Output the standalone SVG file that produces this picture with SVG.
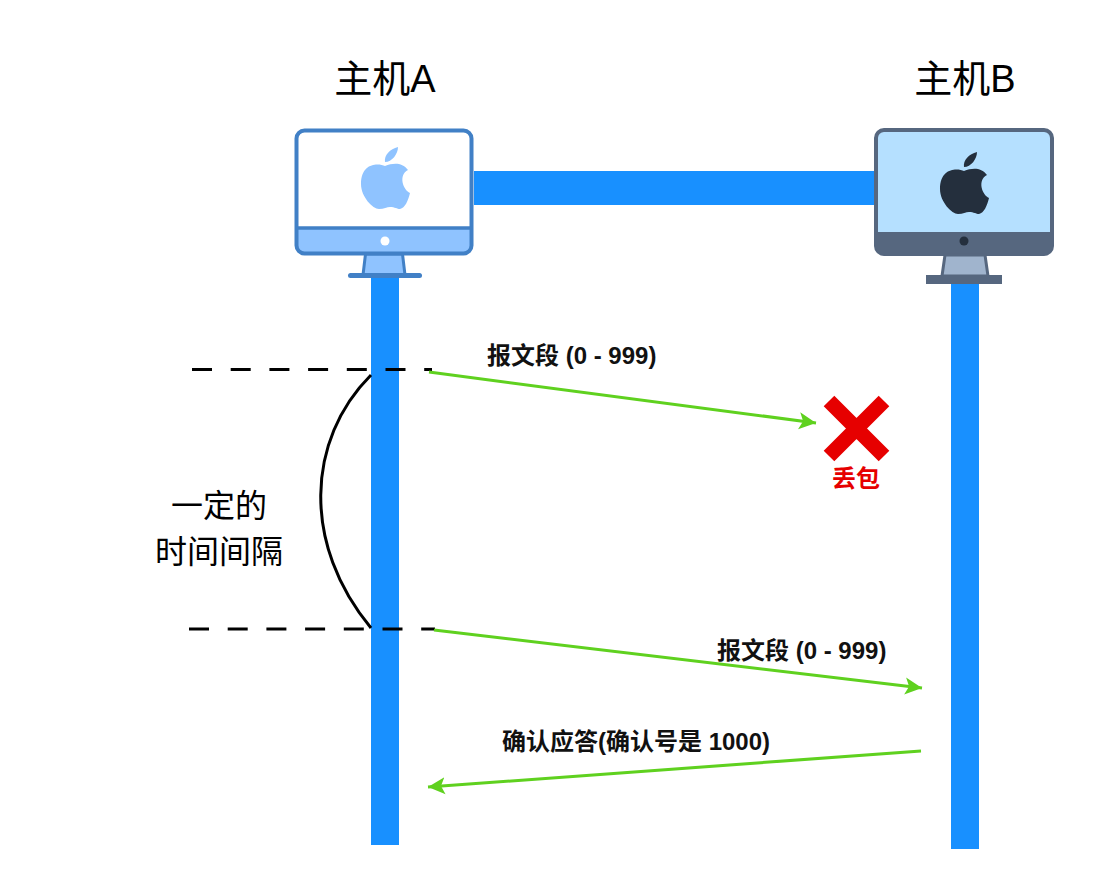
<svg xmlns="http://www.w3.org/2000/svg" width="1108" height="871" viewBox="0 0 1108 871">
<style>
text{font-family:"Liberation Sans","Noto Sans CJK SC",sans-serif;fill:#000}
.t{font-size:38px}
.l{font-size:24px;font-weight:bold;fill:#111}
.g{font-size:32px}
.w{fill:#1890ff}
.c{stroke:#5fd11f;stroke-width:3;fill:none;marker-end:url(#a)}
.d{stroke:#000;stroke-width:3;fill:none;stroke-dasharray:20 18.700}
</style>
<defs>
<marker id="a" markerUnits="userSpaceOnUse" markerWidth="20" markerHeight="20" refX="17" refY="9" orient="auto"><path d="M0 0.500L17 9L0 17.500L4 9Z" fill="#5fd11f"/></marker>
<path id="apple" d="M11 -34C3 -32 -3 -26 -2 -19C5 -19 11 -27 11 -34ZM-2 -15C-8 -18 -26 -19 -26 3C-26 16 -14 28 -8 28C-3 28 0 26 3 26C8 26 10 28 13 28C18 27 21 20 23 12C16 9 11 -6 21 -11C15 -19 6 -18 -2 -15Z"/>
</defs>
<g id="link"><rect class="w" x="474" y="171" width="402" height="34"/></g>
<g id="lifelineA"><rect class="w" x="371" y="278" width="28" height="567"/></g>
<g id="lifelineB"><rect class="w" x="951" y="284" width="28" height="565"/></g>
<g id="hostA">
<text class="t" x="385" y="92" text-anchor="middle">主机A</text>
<rect x="296.500" y="130.500" width="175" height="123" rx="8" fill="#fff"/>
<path d="M296.500 228H471.500V245a8 8 0 0 1-8 8H304.500a8 8 0 0 1-8-8Z" fill="#8fc3ff"/>
<path d="M365.500 254H402.500L405 275H363Z" fill="#8fc3ff" stroke="#4180c6" stroke-width="3"/>
<rect x="348" y="273" width="74" height="5" rx="2.500" fill="#4180c6"/>
<rect x="296.500" y="130.500" width="175" height="123" rx="8" fill="none" stroke="#4180c6" stroke-width="4"/>
<path d="M296 228H472" stroke="#4180c6" stroke-width="3.500"/>
<circle cx="385" cy="241" r="4.500" fill="#fff"/>
<use href="#apple" x="387" y="181" fill="#8fc3ff"/>
</g>
<g id="hostB">
<text class="t" x="965" y="92" text-anchor="middle">主机B</text>
<rect x="876" y="130" width="176" height="124" rx="8" fill="#b5e0ff" stroke="#56677f" stroke-width="4"/>
<path d="M875 232H1053V245a10 10 0 0 1-10 10H885a10 10 0 0 1-10-10Z" fill="#56677f"/>
<path d="M945 255H985L988 276H942Z" fill="#a0b4cd" stroke="#56677f" stroke-width="3"/>
<rect x="926" y="275" width="76" height="9" fill="#56677f"/>
<circle cx="964" cy="241" r="4.500" fill="#242f3d"/>
<use href="#apple" x="966" y="186" fill="#242f3d"/>
</g>
<g id="interval">
<path class="d" d="M192 369.500H432"/>
<path class="d" d="M189 629H435"/>
<path d="M371 375C306 440 302 545 371 628" fill="none" stroke="#000" stroke-width="3"/>
<text class="g" x="219" y="517" text-anchor="middle">一定的</text>
<text class="g" x="219" y="563" text-anchor="middle">时间间隔</text>
</g>
<g id="connectors">
<path class="c" d="M429 372L816 423"/>
<path class="c" d="M434 630L922 688"/>
<path class="c" d="M921 751L428 787"/>
</g>
<g id="labels">
<text class="l" x="487" y="364">报文段 (0 - 999)</text>
<text class="l" x="717" y="659">报文段 (0 - 999)</text>
<text class="l" x="502" y="750">确认应答(确认号是 1000)</text>
</g>
<g id="lost">
<path d="M829 401L884 456M884 401L829 456" stroke="#e60000" stroke-width="15" fill="none"/>
<text x="856" y="487" text-anchor="middle" style="font-size:24px;font-weight:bold;fill:#e60000">丢包</text>
</g>
</svg>
